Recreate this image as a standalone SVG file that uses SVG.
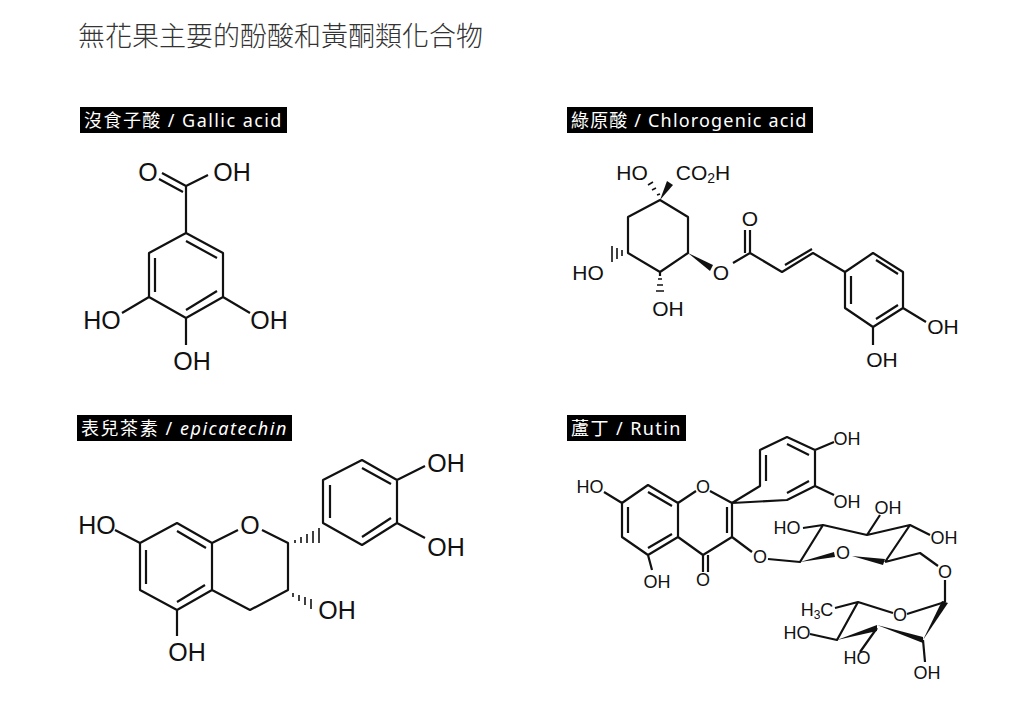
<svg xmlns="http://www.w3.org/2000/svg" width="1024" height="713" viewBox="0 0 1024 713">
<style>
.b{stroke:#111;stroke-width:2.2;fill:none;stroke-linejoin:round}
.t{font-family:"Liberation Sans",Arial,sans-serif;fill:#111;text-anchor:middle;dominant-baseline:central}
.lb{fill:#000}
.lt{font-family:"Noto Sans","Noto Sans CJK TC",sans-serif;font-size:18px;fill:#fff;letter-spacing:0.6px}
.w{fill:#111}
.h{stroke:#111;stroke-width:1.6}
</style>
<rect width="1024" height="713" fill="#fff"/>
<text x="78" y="46" font-family="'Noto Sans CJK TC','Noto Sans CJK SC',sans-serif" font-size="27" font-weight="300" fill="#333">無花果主要的酚酸和黃酮類化合物</text>

<g id="gallic">
<rect class="lb" x="80" y="107" width="207" height="26"/>
<text class="lt" x="84" y="127" textLength="198">沒食子酸 / Gallic acid</text>
<path class="b" d="M186,233 L223,253 L223,297 L186,318 L149,297 L149,253 Z M155,258 L155,292 M217,291 L186,310 M186,241 L217,258 M186,233 L186,186 L162,173 M183,192 L159,179 M186,186 L208,175 M149,297 L122,313 M223,297 L250,313 M186,318 L186,345"/>
<g class="t" font-size="25"><text x="148" y="172">O</text><text x="232" y="172">OH</text><text x="102" y="320">HO</text><text x="269" y="320">OH</text><text x="192" y="361">OH</text></g>
</g>

<g id="chlorogenic">
<rect class="lb" x="567" y="107" width="246" height="26"/>
<text class="lt" x="571" y="127" textLength="236">綠原酸 / Chlorogenic acid</text>
<path class="b" d="M660,200 L688,217 L688,253 L660,272 L628,253 L628,217 Z M660,272 L660,276 M750,253 L733,263 M750,253 L750,230 M745,253 L745,230 M750,253 L782,272 L813,253 L845,272 M785,265 L812,249 M845,272 L873,253 L903,272 L903,308 L873,327 L845,308 Z M851,276 L851,304 M876,260 L898,274 M898,305 L876,319 M903,308 L926,322 M873,327 L873,345"/>
<polygon class="w" points="660,200 667,181 673,185"/>
<polygon class="w" points="688,253 713,265 710,271"/>
<g class="h"><path d="M657,195 L660,194 M652,190 L656,188 M648,185 L653,182"/><path d="M622,256 L622,250 M617,259 L617,248 M612,262 L612,246"/><path d="M658,279 L662,279 M657,285 L663,285 M656,291 L664,291"/></g>
<g class="t" font-size="21"><text x="632" y="172">HO</text><text x="703" y="172">CO<tspan font-size="14" dy="6">2</tspan><tspan dy="-6">H</tspan></text><text x="721" y="272">O</text><text x="750" y="218">O</text><text x="588" y="272">HO</text><text x="668" y="308">OH</text><text x="943" y="326">OH</text><text x="882" y="359">OH</text></g>
</g>

<g id="epicatechin">
<rect class="lb" x="77" y="415" width="215" height="26"/>
<text class="lt" x="81" y="435" textLength="206">表兒茶素 / <tspan font-style="italic">epicatechin</tspan></text>
<path class="b" d="M177,523 L212,543 L212,590 L177,610 L140,590 L140,543 Z M177,531 L206,548 M205,585 L177,602 M146,550 L146,584 M212,543 L238,530 M262,530 L288,543 L288,590 L250,610 L212,590 M140,543 L115,530 M177,610 L177,636 M323,523 L323,480 L362,460 L397,480 L397,523 L362,545 Z M330,485 L330,518 M362,468 L391,484 M391,518 L362,537 M397,480 L425,466 M397,523 L425,538"/>
<g class="h"><path d="M295,540 L295,543 M301,537 L301,543 M307,534 L307,543 M313,531 L313,543 M319,528 L319,543"/><path d="M293,593 L293,597 M299,595 L299,601 M305,597 L305,605 M311,599 L311,609"/></g>
<g class="t" font-size="25"><text x="250" y="525">O</text><text x="97" y="525">HO</text><text x="187" y="652">OH</text><text x="337" y="610">OH</text><text x="446" y="463">OH</text><text x="446" y="547">OH</text></g>
</g>

<g id="rutin">
<rect class="lb" x="567" y="415" width="119" height="26"/>
<text class="lt" x="571" y="435" textLength="110">蘆丁 / Rutin</text>
<path class="b" d="M648,485 L678,503 L678,537 L648,555 L622,537 L622,503 Z M648,492 L672,506 M672,534 L648,548 M628,507 L628,533 M678,503 L696,491 M710,491 L732,503 L732,537 L703,555 L678,537 M727,507 L727,533 M703,555 L703,572 M708,555 L708,572 M732,537 L752,552 M622,503 L604,492 M648,555 L652,570 M732,503 L760,486 L760,450 L787,437 L815,450 L815,486 L787,500 Z M766,455 L766,481 M787,444 L809,455 M809,481 L787,493 M815,450 L834,442 M815,486 L834,495 M768,559 L800,562 L823,525 L867,535 L910,525 L885,562 M823,525 L803,528 M867,535 L880,515 M910,525 L930,535 M885,562 L920,553 L938,566 M945,580 L945,602 M945,602 L907,614 M893,613 L858,602 L835,608 M858,602 L837,640 L810,634 M877,628 L860,652 M923,640 L925,662"/>
<polygon class="w" points="800,562 834,552 835,557"/>
<polygon class="w" points="852,556 885,559 883,565"/>
<polygon class="w" points="837,640 877,625 877,631"/>
<polygon class="w" points="877,625 923,637 923,643"/>
<polygon class="w" points="923,640 942,601 948,603"/>
<g class="t" font-size="18"><text x="703" y="487">O</text><text x="590" y="487">HO</text><text x="657" y="582">OH</text><text x="703" y="580">O</text><text x="760" y="557">O</text><text x="847" y="439">OH</text><text x="847" y="502">OH</text><text x="843" y="553">O</text><text x="787" y="528">HO</text><text x="888" y="508">OH</text><text x="944" y="538">OH</text><text x="945" y="572">O</text><text x="900" y="615">O</text><text x="817" y="610">H<tspan font-size="12" dy="5">3</tspan><tspan dy="-5">C</tspan></text><text x="797" y="633">HO</text><text x="857" y="658">HO</text><text x="927" y="673">OH</text></g>
</g>
</svg>
